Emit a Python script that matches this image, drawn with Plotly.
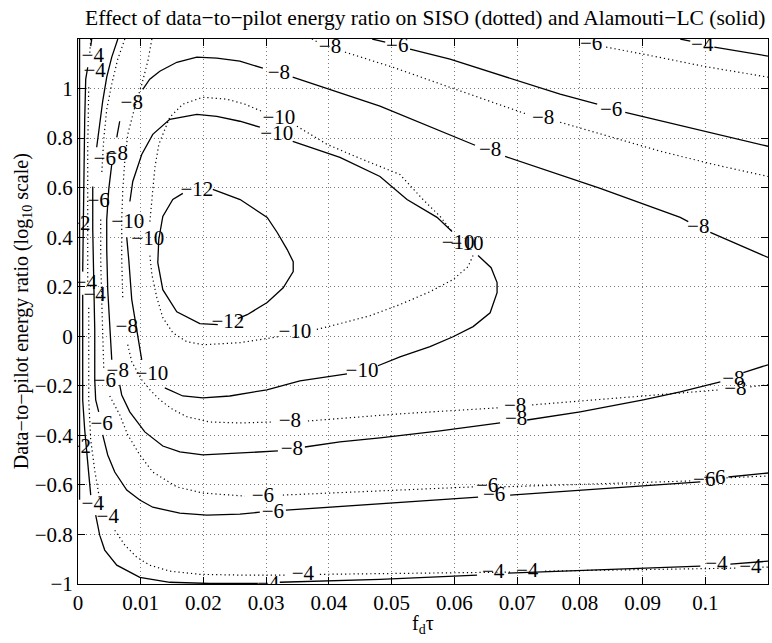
import plotly.graph_objects as go

# ---------------- axis ticks ----------------
x_ticks = [0, 0.01, 0.02, 0.03, 0.04, 0.05, 0.06, 0.07, 0.08, 0.09, 0.1]
x_tick_text = ["0", "0.01", "0.02", "0.03", "0.04", "0.05", "0.06", "0.07", "0.08", "0.09", "0.1"]
y_ticks = [-1, -0.8, -0.6, -0.4, -0.2, 0, 0.2, 0.4, 0.6, 0.8, 1]
y_tick_text = ["\u22121", "\u22120.8", "\u22120.6", "\u22120.4", "\u22120.2", "0", "0.2", "0.4", "0.6", "0.8", "1"]

# ---------------- Alamouti-LC contours (solid), None = break at a label ----------------
alam_m12_x = [0.02149, 0.02585, 0.03016, 0.03176, 0.03335, 0.03431, 0.03431, 0.03271, 0.03016, 0.02697, 0.02548, None,
              0.02229, 0.01942, 0.01575, 0.01352, 0.01272, 0.01288, 0.01352, 0.01511, 0.01671]
alam_m12_y = [0.593, 0.552, 0.480, 0.419, 0.350, 0.301, 0.261, 0.196, 0.136, 0.087, 0.071, None,
              0.047, 0.051, 0.099, 0.188, 0.297, 0.391, 0.484, 0.552, 0.577]

alam_m10_x = [0.00827, 0.00873, 0.01016, 0.01192, 0.01463, 0.01894, 0.02213, 0.02580, 0.02899, None,
              0.03423, 0.04176, 0.04814, 0.05245, 0.05724, 0.05963, None,
              0.06378, 0.06586, 0.06681, 0.06681, 0.06570, 0.06299, 0.05979, 0.05612, 0.05133, 0.04782, None,
              0.04288, 0.03538, 0.03011, 0.02421, 0.01990, 0.01671, 0.01384, None,
              0.01016, 0.00937, 0.00857, 0.00809, 0.00777]
alam_m10_y = [0.544, 0.625, 0.734, 0.815, 0.876, 0.896, 0.888, 0.868, 0.844, None,
              0.787, 0.722, 0.645, 0.552, 0.480, 0.423, None,
              0.326, 0.277, 0.217, 0.176, 0.095, 0.039, -0.002, -0.042, -0.083, -0.119, None,
              -0.152, -0.180, -0.216, -0.241, -0.249, -0.241, -0.208, None,
              -0.095, 0.026, 0.148, 0.310, 0.399]

alam_m8_x = [0.1100, 0.10607, None, 0.10240, 0.09601, 0.09011, 0.08006, 0.07160, None,
             0.06729, 0.05772, 0.04814, 0.04176, 0.03617, None,
             0.03187, 0.02580, 0.01990, 0.01623, 0.01352, 0.01065, 0.00825, 0.00697, 0.00665, None,
             0.00538, 0.00506, 0.00474, 0.00458, 0.00458, 0.00490, 0.00538, None,
             0.00618, 0.00665, None,
             0.01033, 0.01144, 0.01304, 0.01575, 0.01894, 0.02213, 0.02580, 0.02947, None,
             0.03423, 0.04814, 0.06330, None,
             0.06809, 0.08325, 0.09601, 0.09729, None,
             0.10080, 0.1100]
alam_m8_y = [-0.115, -0.147, None, -0.184, -0.224, -0.257, -0.305, -0.338, None,
             -0.350, -0.382, -0.410, -0.426, -0.447, None,
             -0.463, -0.471, -0.479, -0.467, -0.443, -0.386, -0.305, -0.237, -0.196, None,
             -0.095, 0.026, 0.188, 0.350, 0.471, 0.593, 0.694, None,
             0.803, 0.868, None,
             0.997, 1.038, 1.070, 1.106, 1.127, 1.123, 1.111, 1.082, None,
             1.046, 0.929, 0.771, None,
             0.726, 0.597, 0.480, 0.463, None,
             0.419, 0.318]

alam_m6_left_x = [0.00635, 0.00538, 0.00458, 0.00394, 0.00346, 0.00298, None,
                  0.00235, 0.00235, 0.00251, 0.00267, 0.00267, 0.00282, 0.00330, None,
                  0.00394, 0.00474, 0.00586, 0.00777, 0.00985, 0.01192, 0.01623, 0.02053, 0.02580, 0.02899, None,
                  0.03314, 0.05133, 0.06378, None,
                  0.06889, 0.08006, 0.09921, None,
                  0.10368, 0.1100]
alam_m6_left_y = [1.2, 1.127, 1.046, 0.949, 0.856, 0.763, None,
                  0.605, 0.431, 0.229, 0.026, -0.176, -0.257, -0.305, None,
                  -0.398, -0.479, -0.548, -0.621, -0.661, -0.690, -0.714, -0.722, -0.718, -0.710, None,
                  -0.702, -0.669, -0.649, None,
                  -0.641, -0.621, -0.588, None,
                  -0.568, -0.552]

alam_m6_top_x = [0.04691, 0.04898, None, 0.05293, 0.05931, 0.07686, 0.08277, None, 0.08724, 0.1100]
alam_m6_top_y = [1.2, 1.187, None, 1.159, 1.119, 0.977, 0.937, None, 0.904, 0.767]

alam_m4_left_x = [0.00219, 0.00203, None, 0.00155, 0.00123, 0.00107, 0.00091, 0.00075, None,
                  0.00075, 0.00075, 0.00107, 0.00155, 0.00203, None,
                  0.00282, 0.00346, 0.00426, 0.00618, 0.00985, 0.01464, 0.02102, 0.02867, None,
                  0.03217, 0.04814, 0.06362, None,
                  0.06856, 0.08325, 0.09921, None,
                  0.10400, 0.1100]
alam_m4_left_y = [1.2, 1.171, None, 1.086, 1.038, 0.876, 0.552, 0.261, None,
                  0.168, -0.257, -0.378, -0.507, -0.641, None,
                  -0.722, -0.803, -0.863, -0.924, -0.973, -0.993, -0.998, -0.998, None,
                  -0.993, -0.981, -0.964, None,
                  -0.956, -0.944, -0.928, None,
                  -0.920, -0.908]

alam_m4_top_x = [0.09601, 0.09761, None, 0.10144, 0.1100]
alam_m4_top_y = [1.2, 1.191, None, 1.167, 1.131]

alam_m2_x = [0.00025, 0.00025]
alam_m2_y = [1.2, -0.66]

# ---------------- SISO contours (dotted) ----------------
siso_m10_x = [0.01146, 0.01178, 0.01226, 0.01289, 0.01463, 0.01671, 0.01990, 0.02373, 0.02660, 0.02931, None,
              0.03490, 0.03968, 0.04495, 0.05133, 0.05500, 0.05772, 0.05963, None,
              0.06298, 0.06218, 0.05979, 0.05612, 0.05133, 0.04655, 0.04176, 0.03777, None,
              0.03187, 0.02580, 0.01990, 0.01735, 0.01512, 0.01352, 0.01257, 0.01178, 0.01146]
siso_m10_y = [0.463, 0.544, 0.682, 0.775, 0.884, 0.937, 0.965, 0.957, 0.937, 0.908, None,
              0.848, 0.775, 0.718, 0.653, 0.552, 0.484, 0.423, None,
              0.326, 0.281, 0.229, 0.180, 0.128, 0.083, 0.051, 0.026, None,
              -0.002, -0.026, -0.034, -0.022, 0.014, 0.075, 0.156, 0.249, 0.326]

siso_m8_left_x = [0.01178, 0.01114, 0.01018, 0.00905, 0.00793, 0.00746, 0.00714, 0.00697, 0.00697, 0.00714, None,
                  0.00793, 0.00857, 0.01018, 0.01146, 0.01305, 0.01496, 0.01735, 0.02102, 0.02580, 0.03091, None,
                  0.03665, 0.05133, 0.06697, None,
                  0.07240, 0.08006, 0.09123, 0.10240, None,
                  0.10718, 0.1100]
siso_m8_left_y = [1.2, 1.111, 1.018, 0.924, 0.815, 0.706, 0.593, 0.471, 0.310, 0.148, None,
                  -0.034, -0.103, -0.176, -0.216, -0.257, -0.293, -0.325, -0.346, -0.350, -0.346, None,
                  -0.342, -0.313, -0.289, None,
                  -0.277, -0.261, -0.237, -0.216, None,
                  -0.204, -0.196]

siso_m8_top_x = [0.03729, 0.03825, None, 0.04256, 0.05021, 0.05883, 0.07160, None, 0.07687, 0.08373, 0.09282, 0.10128, 0.1100]
siso_m8_top_y = [1.2, 1.187, None, 1.147, 1.086, 1.009, 0.896, None, 0.864, 0.815, 0.747, 0.694, 0.645]

siso_m6_left_x = [0.00747, 0.00634, 0.00538, 0.00458, 0.00410, 0.00378, None,
                  0.00362, 0.00362, 0.00378, 0.00394, 0.00410, None,
                  0.00506, 0.00665, 0.00793, 0.00985, 0.01192, 0.01575, 0.01990, 0.02660, None,
                  0.03266, 0.05133, 0.06298, None,
                  0.06729, 0.08325, 0.09761, None,
                  0.10271, 0.1100]
siso_m6_left_y = [1.2, 1.119, 1.018, 0.916, 0.795, 0.653, None,
                  0.471, 0.310, 0.148, -0.014, -0.127, None,
                  -0.241, -0.317, -0.398, -0.479, -0.548, -0.608, -0.633, -0.645, None,
                  -0.641, -0.621, -0.608, None,
                  -0.608, -0.596, -0.584, None,
                  -0.572, -0.564]

siso_m6_top_x = [0.08420, 0.09011, 0.09968, 0.1100]
siso_m6_top_y = [1.167, 1.139, 1.090, 1.046]

siso_m4_x = [0.00203, 0.00187, None, 0.00171, 0.00155, 0.00155, 0.00155, None,
             0.00171, 0.00171, 0.00203, 0.00266, 0.00346, None,
             0.00586, 0.00746, 0.00937, 0.01144, 0.01463, 0.01942, 0.02580, 0.03298, None,
             0.03856, 0.05133, 0.06889, None,
             0.07447, 0.09921, 0.10479, None,
             0.10910, 0.1100]
siso_m4_y = [1.2, 1.139, None, 1.005, 0.755, 0.471, 0.209, None,
             0.115, -0.257, -0.419, -0.540, -0.661, None,
             -0.783, -0.843, -0.892, -0.924, -0.948, -0.961, -0.964, -0.964, None,
             -0.961, -0.956, -0.952, None,
             -0.948, -0.940, -0.936, None,
             -0.932, -0.932]

# ---------------- contour labels ----------------
alam_label_x = [0.01894, 0.02389,
                0.03168, 0.06059, 0.04527, 0.01177, 0.00793,
                0.10447, 0.06985, 0.03410, 0.00634, 0.00618, 0.00857, 0.03203, 0.06570, 0.09888,
                0.00426, 0.00378, 0.03107, 0.06633, 0.10144, 0.05090, 0.08500,
                0.00235, 0.00123, 0.00235, 0.03032, 0.06617, 0.10176, 0.09952,
                0.0002, 0.0003]
alam_label_y = [0.589, 0.055,
                0.815, 0.374, -0.143, -0.156, 0.459,
                -0.176, -0.338, -0.459, -0.143, 0.734, 0.937, 1.058, 0.747, 0.439,
                0.714, -0.358, -0.714, -0.645, -0.576, 1.167, 0.912,
                1.127, 0.213, -0.681, -1.004, -0.956, -0.924, 1.171,
                0.451, -0.451]
alam_label_level = [-12, -12,
                    -10, -10, -10, -10, -10,
                    -8, -8, -8, -8, -8, -8, -8, -8, -8,
                    -6, -6, -6, -6, -6, -6, -6,
                    -4, -4, -4, -4, -4, -4, -4,
                    -2, -2]

siso_label_x = [0.01112, 0.03203, 0.06202, 0.03458,
                0.00777, 0.03378, 0.06969, 0.10479, 0.04017, 0.07416,
                0.00330, 0.00426, 0.02947, 0.06522, 0.09984, 0.08181,
                0.00266, 0.00266, 0.00474, 0.03585, 0.07160, 0.10718]
siso_label_y = [0.391, 0.880, 0.370, 0.014,
                0.035, -0.346, -0.285, -0.216, 1.163, 0.880,
                0.544, -0.184, -0.649, -0.608, -0.584, 1.175,
                1.066, 0.164, -0.734, -0.964, -0.952, -0.936]
siso_label_level = [-10, -10, -10, -10,
                    -8, -8, -8, -8, -8, -8,
                    -6, -6, -6, -6, -6, -6,
                    -4, -4, -4, -4, -4, -4]

title_text = "Effect of data\u2212to\u2212pilot energy ratio on SISO (dotted) and Alamouti\u2212LC (solid)"
x_title = "f<sub>d</sub>\u03c4"
y_title = "Data\u2212to\u2212pilot energy ratio (log<sub>10</sub> scale)"

FONT = "Liberation Serif"

fig = go.Figure()

solid_lines = [(alam_m12_x, alam_m12_y), (alam_m10_x, alam_m10_y), (alam_m8_x, alam_m8_y),
               (alam_m6_left_x, alam_m6_left_y), (alam_m6_top_x, alam_m6_top_y),
               (alam_m4_left_x, alam_m4_left_y), (alam_m4_top_x, alam_m4_top_y),
               (alam_m2_x, alam_m2_y)]
dotted_lines = [(siso_m10_x, siso_m10_y), (siso_m8_left_x, siso_m8_left_y), (siso_m8_top_x, siso_m8_top_y),
                (siso_m6_left_x, siso_m6_left_y), (siso_m6_top_x, siso_m6_top_y), (siso_m4_x, siso_m4_y)]

for xs, ys in dotted_lines:
    fig.add_trace(go.Scatter(x=xs, y=ys, mode="lines", connectgaps=False, showlegend=False,
                             hoverinfo="skip", line=dict(color="black", width=1.2, dash="1.2px,3px")))
for xs, ys in solid_lines:
    fig.add_trace(go.Scatter(x=xs, y=ys, mode="lines", connectgaps=False, showlegend=False,
                             hoverinfo="skip", line=dict(color="black", width=1.3)))


def lab(v):
    return ("\u2212" + str(-v)) if v < 0 else str(v)


for lx, ly, lv in [(alam_label_x, alam_label_y, alam_label_level),
                   (siso_label_x, siso_label_y, siso_label_level)]:
    fig.add_trace(go.Scatter(x=lx, y=ly, mode="text", text=[lab(v) for v in lv],
                             textposition="middle center", cliponaxis=True, showlegend=False,
                             hoverinfo="skip", textfont=dict(family=FONT, size=21, color="black")))

axis_common = dict(showgrid=True, gridcolor="#7a7a7a", griddash="1px,3px", gridwidth=1,
                   showline=True, linecolor="black", linewidth=1, mirror="ticks",
                   ticks="inside", ticklen=7, tickcolor="black", tickwidth=1,
                   zeroline=False, automargin=False,
                   tickfont=dict(family=FONT, size=21, color="black"))

fig.update_xaxes(range=[0, 0.11], tickvals=x_ticks, ticktext=x_tick_text, **axis_common)
fig.update_yaxes(range=[-1, 1.2], tickvals=y_ticks, ticktext=y_tick_text, **axis_common)

fig.update_layout(
    width=772, height=643,
    margin=dict(l=78, r=4, t=39, b=59, pad=0),
    plot_bgcolor="white", paper_bgcolor="white",
    font=dict(family=FONT, size=20, color="black"),
    hovermode=False,
    annotations=[
        dict(text=title_text, xref="paper", yref="paper", x=0.503, y=1.0385,
             xanchor="center", yanchor="middle", showarrow=False,
             font=dict(family=FONT, size=21.5, color="black")),
        dict(text=x_title, xref="paper", yref="paper", x=0.5, y=-0.074,
             xanchor="center", yanchor="middle", showarrow=False,
             font=dict(family=FONT, size=20, color="black")),
        dict(text=y_title, xref="paper", yref="paper", x=-0.08, y=0.5,
             xanchor="center", yanchor="middle", textangle=-90, showarrow=False,
             font=dict(family=FONT, size=20, color="black")),
    ],
)

fig.write_html("out.html", config={"displayModeBar": False},
               post_script="document.body.style.margin='0px';document.body.style.overflow='hidden';")
